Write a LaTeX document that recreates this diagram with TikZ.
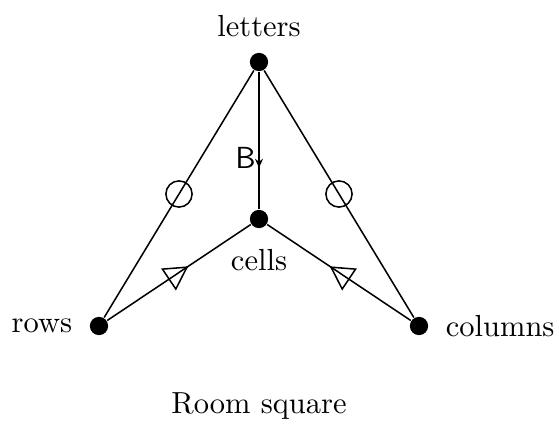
\documentclass[tikz,border=0pt]{standalone}
\usepackage{amsfonts, amssymb, amsmath}
\usepackage{tikz}
\usetikzlibrary{arrows.meta, decorations.markings}

\tikzset{
    vertex/.style={circle, fill=black, inner sep=0pt, minimum size=6pt},
    ring/.style={circle, draw, inner sep=0pt, minimum size=8.6pt},
    wedge/.style={decoration={markings, mark=at position 0.565 with
        {\arrow{Triangle[open,length=7.8pt,width=8.6pt]}}}, postaction={decorate}},
    midarrow/.style={decoration={markings, mark=at position #1 with {\arrow{>}}}, postaction={decorate}}
}

\begin{document}
\begin{tikzpicture}[>={Stealth[length=3pt,width=2.6pt]}, x=0.328pt, y=-0.328pt, line width=0.5pt]
    \useasboundingbox (0,0) rectangle (559,428);

    % the four points of the square
    \node[vertex] (letters) at (259,62) {};
    \node[vertex] (cells) at (259,219) {};
    \node[vertex] (rows) at (99,326) {};
    \node[vertex] (columns) at (419,326) {};

    \node[above=1.5pt] (letterslabel) at (letters.north) {letters};
    \node[below=3pt] (cellslabel) at (cells.south) {cells};
    \node[left=2pt] (rowslabel) at (rows.west) {rows};
    \node[right=2pt] (columnslabel) at (columns.east) {columns};

    % edges
    \draw (letters) -- node[ring] (r1) {} (rows);
    \draw (letters) -- node[ring] (r2) {} (columns);
    \draw[midarrow=0.7] (letters) -- node[pos=0.63, left=-2.5pt] (blabel) {\textsf{B}} (cells);
    \draw[wedge] (rows) -- (cells);
    \draw[wedge] (columns) -- (cells);

    \node (caption) at (259,406) {Room square};
\end{tikzpicture}
\end{document}
